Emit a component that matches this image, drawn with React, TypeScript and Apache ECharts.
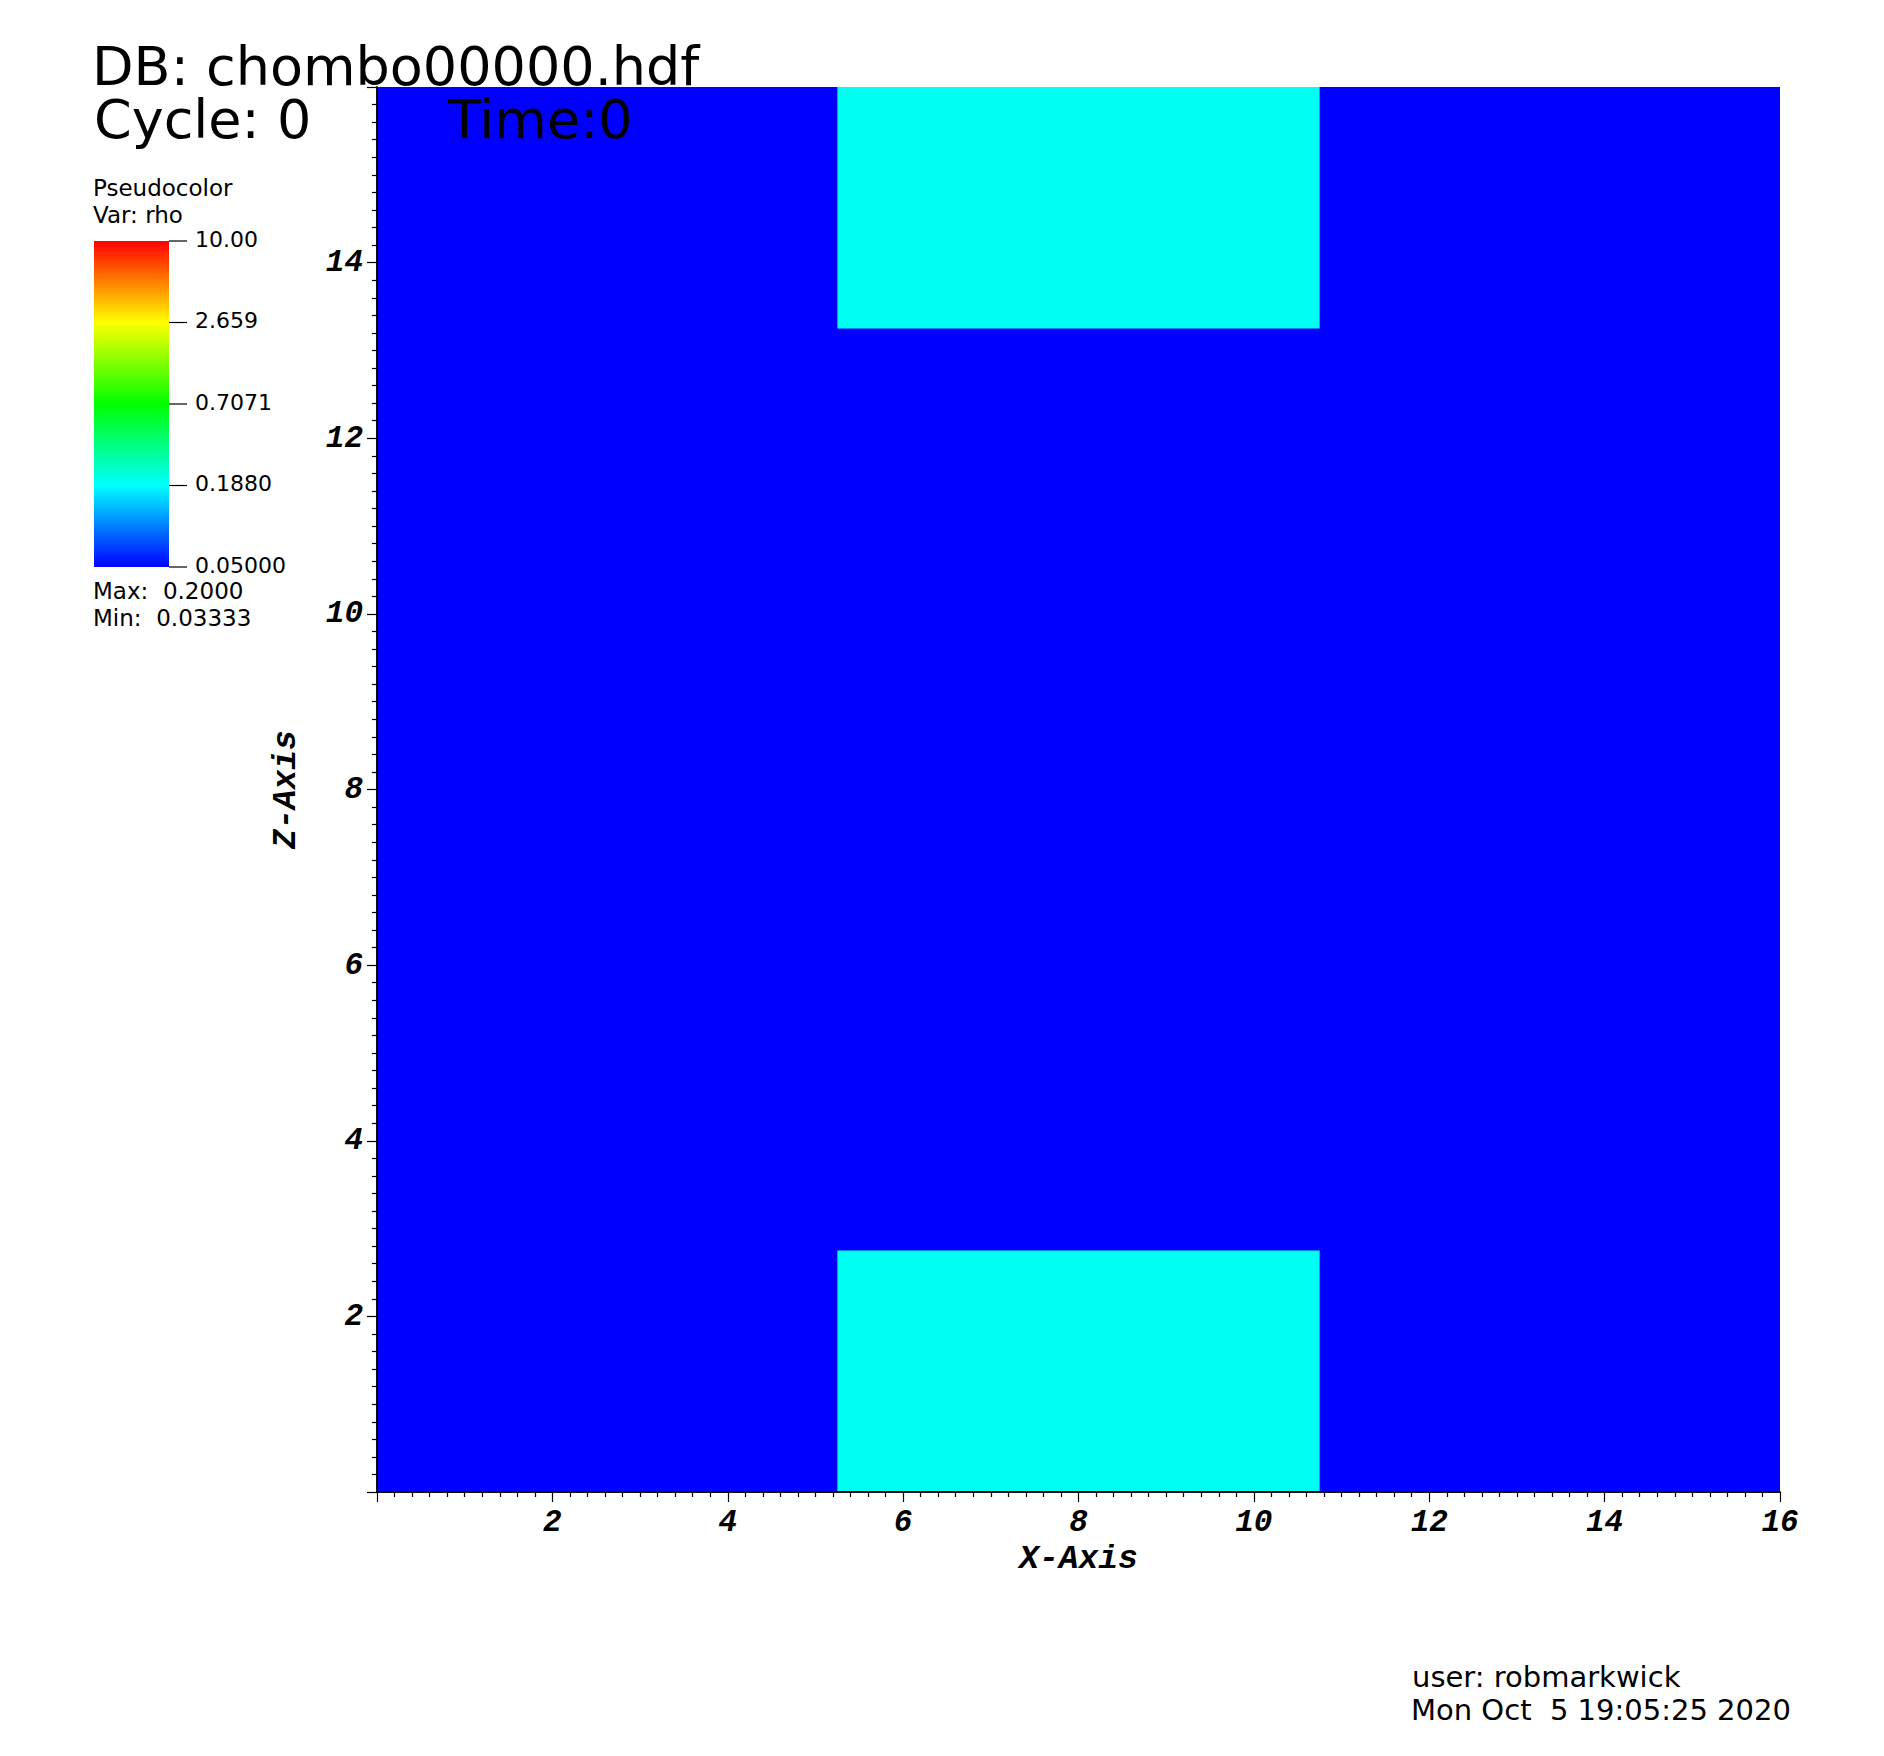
import React, { useEffect, useRef } from "react";
import * as echarts from "echarts";

// ---- data ----
const regionX0 = [0, 5.25, 5.25];
const regionX1 = [16, 10.75, 10.75];
const regionZ0 = [0, 0, 13.25];
const regionZ1 = [16, 2.75, 16];
const regionRho = [0.03333, 0.2, 0.2];

const xMin = 0;
const xMax = 16;
const zMin = 0;
const zMax = 16;
const tickInterval = 2;

const legendMin = 0.05;
const legendMax = 10;
const legendTickValues = [10, 2.659, 0.7071, 0.188, 0.05];
const legendTickLabels = ["10.00", "2.659", "0.7071", "0.1880", "0.05000"];
const dataMaxLabel = "Max:  0.2000";
const dataMinLabel = "Min:  0.03333";

const colorStops = [
  [0, 0, 255],
  [0, 255, 255],
  [0, 255, 0],
  [255, 255, 0],
  [255, 0, 0],
];

function rhoColor(rho: number): string {
  let t = Math.log(rho / legendMin) / Math.log(legendMax / legendMin);
  t = Math.max(0, Math.min(1, t));
  const seg = Math.min(3, Math.floor(t * 4));
  const f = t * 4 - seg;
  const a = colorStops[seg];
  const b = colorStops[seg + 1];
  const c = a.map((v, i) => Math.round(v + (b[i] - v) * f));
  return `rgb(${c[0]},${c[1]},${c[2]})`;
}

const SANS = "DejaVu Sans";
const MONO = "Liberation Mono";

export default function App() {
  const ref = useRef<HTMLDivElement>(null);
  useEffect(() => {
    if (!ref.current) return;
    const chart = echarts.init(ref.current, null, { renderer: "svg" });

    const gridLeft = 377;
    const gridTop = 87;
    const gridW = 1403;
    const gridH = 1405;

    const data = regionX0.map((x0, i) => [x0, regionX1[i], regionZ0[i], regionZ1[i], regionRho[i]]);

    // legend bar geometry
    const barX = 94;
    const barY = 241;
    const barW = 75;
    const barH = 326;
    const logSpan = Math.log(legendMax / legendMin);
    const legendGraphics: any[] = [];
    legendTickValues.forEach((v, i) => {
      const y = barY + (Math.log(legendMax / v) / logSpan) * barH;
      legendGraphics.push({
        type: "line",
        z: 100,
        shape: { x1: barX + barW, y1: y, x2: barX + barW + 18, y2: y },
        style: { stroke: "#000", lineWidth: 1.2 },
      });
      legendGraphics.push({
        type: "text",
        z: 100,
        x: 195,
        y: y - 2,
        style: {
          text: legendTickLabels[i],
          font: `22px "${SANS}"`,
          fill: "#000",
          verticalAlign: "middle",
          align: "left",
          lineHeight: 22,
        },
      });
    });

    const txt = (text: string, x: number, baseline: number, size: number) => ({
      type: "text",
      z: 100,
      x,
      y: baseline - 0.297 * size,
      style: {
        text,
        font: `${size}px "${SANS}"`,
        fill: "#000",
        verticalAlign: "middle",
        align: "left",
        lineHeight: Math.round(size * 0.9),
      },
    });

    const axisLabelStyle = {
      fontFamily: MONO,
      fontWeight: "bold",
      fontStyle: "italic",
      fontSize: 31,
      color: "#000",
    };

    chart.setOption({
      animation: false,
      backgroundColor: "#fff",
      grid: { left: gridLeft, top: gridTop, width: gridW, height: gridH, show: false },
      xAxis: [
        {
          type: "value",
          min: xMin,
          max: xMax,
          interval: tickInterval,
          z: 10,
          name: "X-Axis",
          nameLocation: "middle",
          nameGap: 49,
          nameTextStyle: { ...axisLabelStyle, fontSize: 33 },
          axisLine: { show: true, lineStyle: { color: "#000", width: 1.5 } },
          axisTick: { show: true, length: 10, inside: false, lineStyle: { color: "#000", width: 1.2 } },
          minorTick: { show: true, splitNumber: 10, length: 5, lineStyle: { color: "#000", width: 1.2 } },
          splitLine: { show: false },
          axisLabel: {
            ...axisLabelStyle,
            margin: 15,
            formatter: (v: number) => (v === xMin ? "" : String(v)),
          },
        },
        {
          type: "value",
          position: "top",
          min: xMin,
          max: xMax,
          z: 10,
          axisLine: { show: true, lineStyle: { color: "#000", width: 1.5 } },
          axisTick: { show: false },
          axisLabel: { show: false },
          splitLine: { show: false },
        },
      ],
      yAxis: [
        {
          type: "value",
          min: zMin,
          max: zMax,
          interval: tickInterval,
          z: 10,
          name: "Z-Axis",
          nameLocation: "middle",
          nameGap: 74,
          nameTextStyle: { ...axisLabelStyle, fontSize: 33 },
          axisLine: { show: true, lineStyle: { color: "#000", width: 1.5 } },
          axisTick: { show: true, length: 10, inside: false, lineStyle: { color: "#000", width: 1.2 } },
          minorTick: { show: true, splitNumber: 10, length: 5, lineStyle: { color: "#000", width: 1.2 } },
          splitLine: { show: false },
          axisLabel: {
            ...axisLabelStyle,
            margin: 14,
            formatter: (v: number) => (v === zMin || v === zMax ? "" : String(v)),
          },
        },
        {
          type: "value",
          position: "right",
          offset: 2,
          min: zMin,
          max: zMax,
          z: 10,
          axisLine: { show: true, lineStyle: { color: "#000", width: 1.5 } },
          axisTick: { show: false },
          axisLabel: { show: false },
          splitLine: { show: false },
        },
      ],
      series: [
        {
          type: "custom",
          xAxisIndex: 0,
          yAxisIndex: 0,
          clip: true,
          encode: { x: [0, 1], y: [2, 3] },
          data,
          renderItem: (params: any, api: any) => {
            const p0 = api.coord([api.value(0), api.value(3)]);
            const p1 = api.coord([api.value(1), api.value(2)]);
            return {
              type: "rect",
              shape: { x: p0[0], y: p0[1], width: p1[0] - p0[0], height: p1[1] - p0[1] },
              style: { fill: rhoColor(api.value(4)), stroke: null },
            };
          },
        },
      ],
      graphic: [
        txt("DB: chombo00000.hdf", 92, 82.7, 54),
        txt("Cycle: 0", 94, 136, 54),
        txt("Time:0", 448, 136, 54),
        txt("Pseudocolor", 93, 195, 23),
        txt("Var: rho", 93, 221.7, 23),
        {
          type: "rect",
          z: 100,
          shape: { x: barX, y: barY, width: barW, height: barH },
          style: {
            fill: new echarts.graphic.LinearGradient(0, 0, 0, 1, [
              { offset: 0, color: "rgb(255,0,0)" },
              { offset: 0.25, color: "rgb(255,255,0)" },
              { offset: 0.5, color: "rgb(0,255,0)" },
              { offset: 0.75, color: "rgb(0,255,255)" },
              { offset: 1, color: "rgb(0,0,255)" },
            ]),
          },
        },
        ...legendGraphics,
        txt(dataMaxLabel, 93, 598, 23),
        txt(dataMinLabel, 93, 625, 23),
        txt("user: robmarkwick", 1412, 1686, 29),
        txt("Mon Oct  5 19:05:25 2020", 1411, 1719, 29),
      ],
    });
    return () => chart.dispose();
  }, []);
  return (
    <div
      ref={ref}
      style={{ position: "absolute", left: 0, top: 0, width: 1884, height: 1756 }}
    />
  );
}
